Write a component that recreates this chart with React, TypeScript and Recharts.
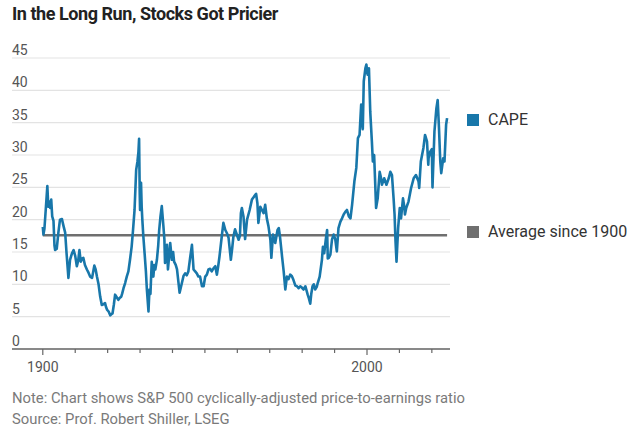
import React from 'react';
import { LineChart, Line, XAxis, YAxis, CartesianGrid } from 'recharts';

// Shiller CAPE (fractional year, ratio)
const capeYears = [
  1900.0, 1900.2, 1900.5, 1900.9, 1901.4, 1901.7, 1902.0, 1902.3, 1902.6, 1902.9,
  1903.3, 1903.6, 1903.8, 1904.3, 1904.8, 1905.3, 1905.9, 1906.4, 1906.9, 1907.3,
  1907.9, 1908.4, 1909.0, 1909.5, 1910.0, 1910.5, 1910.9, 1911.3, 1911.7, 1912.1,
  1912.5, 1913.0, 1913.6, 1914.1, 1914.6, 1915.2, 1915.9, 1916.3, 1916.7, 1917.2,
  1917.7, 1918.2, 1918.7, 1919.2, 1919.5, 1919.8, 1920.3, 1920.8, 1921.2, 1921.5,
  1921.9, 1922.3, 1922.8, 1923.3, 1923.7, 1924.2, 1924.5, 1924.9, 1925.4, 1925.9,
  1926.4, 1926.9, 1927.4, 1927.8, 1928.3, 1928.8, 1929.2, 1929.5, 1929.7, 1929.9,
  1930.0, 1930.3, 1930.5, 1930.7, 1931.0, 1931.4, 1931.8, 1932.1, 1932.6, 1932.9,
  1933.2, 1933.6, 1934.1, 1934.4, 1934.7, 1935.2, 1935.6, 1935.9, 1936.3, 1936.7,
  1937.2, 1937.5, 1937.7, 1938.0, 1938.3, 1938.6, 1939.0, 1939.3, 1939.8, 1940.2,
  1940.5, 1941.0, 1941.4, 1941.8, 1942.2, 1942.9, 1943.4, 1943.9, 1944.4, 1944.9,
  1945.5, 1946.0, 1946.5, 1947.0, 1947.5, 1948.0, 1948.5, 1949.1, 1949.6, 1950.1,
  1950.6, 1951.1, 1951.6, 1952.1, 1952.7, 1953.2, 1953.7, 1954.1, 1954.5, 1955.2,
  1955.7, 1956.3, 1956.8, 1957.3, 1958.0, 1958.4, 1958.8, 1959.3, 1959.7, 1960.4,
  1960.8, 1961.1, 1961.4, 1961.9, 1962.4, 1963.0, 1963.8, 1964.5, 1965.2, 1965.8,
  1966.2, 1966.5, 1967.1, 1967.6, 1968.1, 1968.6, 1969.1, 1969.6, 1970.2, 1970.5,
  1971.0, 1971.7, 1972.4, 1972.8, 1973.2, 1973.8, 1974.3, 1974.8, 1975.3, 1975.8,
  1976.3, 1976.8, 1977.3, 1977.9, 1978.4, 1978.9, 1979.4, 1979.9, 1980.4, 1981.0,
  1981.7, 1982.1, 1982.5, 1982.8, 1983.2, 1983.6, 1984.0, 1984.5, 1984.8, 1985.4,
  1986.1, 1986.4, 1986.8, 1987.3, 1987.7, 1987.9, 1988.2, 1988.7, 1989.2, 1989.7,
  1990.2, 1990.7, 1991.2, 1991.8, 1992.3, 1992.8, 1993.3, 1993.8, 1994.4, 1994.9,
  1995.4, 1996.1, 1996.7, 1997.2, 1997.7, 1998.2, 1998.5, 1998.7, 1999.0, 1999.5,
  1999.8, 2000.2, 2000.6, 2001.0, 2001.5, 2001.8, 2002.2, 2002.5, 2002.8, 2003.3,
  2003.9, 2004.3, 2004.6, 2005.3, 2006.0, 2006.7, 2007.2, 2007.7, 2008.2, 2008.5,
  2008.8, 2009.1, 2009.6, 2010.1, 2010.5, 2011.1, 2011.5, 2011.7, 2012.1, 2012.8,
  2013.6, 2014.4, 2015.1, 2015.9, 2016.1, 2016.6, 2017.4, 2017.9, 2018.5, 2018.9,
  2019.0, 2019.5, 2020.0, 2020.2, 2020.8, 2021.4, 2021.8, 2022.2, 2022.6, 2022.9,
  2023.5, 2023.9, 2024.4, 2024.7,
];

const capeValues = [
  18.9, 17.7, 18.6, 21.5, 25.2, 22.0, 22.8, 21.8, 23.1, 20.5,
  19.8, 16.0, 15.3, 15.5, 18.0, 20.0, 20.1, 19.0, 18.0, 15.0,
  11.0, 13.8, 14.8, 15.3, 14.4, 12.8, 13.6, 15.3, 13.5, 14.0,
  14.1, 13.0, 12.3, 11.8, 11.2, 11.0, 12.9, 12.3, 11.2, 10.0,
  8.1, 6.8, 6.9, 7.1, 6.5, 6.1, 5.8, 5.2, 5.4, 5.5,
  6.8, 8.4, 8.0, 7.6, 7.9, 8.1, 8.6, 9.4, 10.2, 11.2,
  12.0, 13.8, 15.8, 18.2, 21.5, 27.7, 29.0, 30.5, 32.5, 24.0,
  21.5, 25.7, 22.0, 20.0, 17.5, 14.8, 12.0, 9.2, 5.8, 9.2,
  8.5, 13.5, 11.2, 13.0, 12.3, 13.8, 16.0, 18.4, 20.5, 22.1,
  19.0, 17.0, 13.3, 14.5, 16.1, 12.3, 14.5, 16.4, 13.8, 15.0,
  13.5, 13.0, 12.3, 10.5, 8.7, 10.2, 11.3, 11.7, 11.4, 12.0,
  14.3, 16.1, 12.3, 12.0, 11.7, 11.2, 11.2, 9.7, 9.7, 11.2,
  11.5, 12.3, 12.4, 12.0, 12.5, 12.8, 11.5, 12.8, 14.3, 17.4,
  19.5, 18.4, 17.9, 17.2, 13.8, 15.5, 17.4, 18.5, 17.9, 16.9,
  17.5, 21.0, 21.8, 20.5, 17.0, 20.0, 21.5, 23.1, 23.6, 24.0,
  22.5, 19.5, 22.0, 21.5, 21.0, 22.3, 20.2, 19.0, 16.9, 14.1,
  17.7, 16.4, 18.4, 18.7, 17.2, 14.3, 12.0, 9.2, 11.2, 10.8,
  11.5, 11.3, 10.7, 9.8, 9.7, 9.4, 9.7, 9.5, 9.2, 9.7,
  8.4, 7.8, 7.0, 8.5, 9.7, 10.0, 9.2, 9.6, 10.2, 11.2,
  13.8, 15.8, 14.8, 17.0, 18.4, 14.0, 14.1, 14.6, 16.9, 17.7,
  17.0, 15.1, 18.7, 19.7, 20.2, 20.8, 21.2, 21.5, 20.5, 20.2,
  22.3, 25.9, 28.0, 32.6, 33.1, 37.8, 35.2, 34.0, 41.4, 43.4,
  44.0, 42.4, 43.4, 36.7, 32.1, 29.0, 30.0, 26.0, 21.8, 23.3,
  27.4, 26.5, 25.4, 26.4, 25.4, 26.4, 27.4, 26.9, 23.3, 20.8,
  16.6, 13.5, 18.7, 21.8, 20.2, 23.3, 22.0, 20.8, 21.8, 22.8,
  24.9, 26.4, 26.9, 25.9, 24.9, 29.0, 31.1, 33.1, 32.1, 28.5,
  29.5, 30.5, 30.9, 25.0, 33.6, 37.2, 38.5, 34.2, 29.0, 27.2,
  29.5, 29.0, 34.7, 35.7,
];

// average since 1900, drawn from 1900 to the latest reading
const averageYears = [1900, 2024.7];
const averageValue = 17.6;

const yTicks = [0, 5, 10, 15, 20, 25, 30, 35, 40, 45];
const xTicks = [1900, 1910, 1920, 1930, 1940, 1950, 1960, 1970, 1980, 1990, 2000, 2010, 2020];
const xLabels = [1900, 2000];

const BLUE = '#1877aa';
const GREY = '#6f6f6f';
const FONT = 'Roboto, "Noto Sans", sans-serif';

const capeData = capeYears.map((year, i) => ({ year, cape: capeValues[i] }));
const averageData = averageYears.map((year) => ({ year, average: averageValue }));

// direct labels at the right of the plot
const legendItems = [
  { label: 'CAPE', color: BLUE, top: 110 },
  { label: 'Average since 1900', color: GREY, top: 222 },
];

const YTick = ({ x, y, payload }: any) => (
  <text x={x} y={y - 8} dy="0.35em" textAnchor="start" fontSize={14} fill="#555" fontFamily={FONT}>
    {payload.value}
  </text>
);

const XTick = ({ x, y, payload }: any) => {
  const labelled = xLabels.includes(payload.value);
  return (
    <g>
      <line x1={x} x2={x} y1={y} y2={y + (labelled ? 6 : 4)} stroke="#666" strokeWidth={1.2} />
      {labelled && (
        <text x={x} y={y + 18} dy="0.35em" textAnchor="middle" fontSize={14} fill="#555" fontFamily={FONT}>
          {payload.value}
        </text>
      )}
    </g>
  );
};

export default function App() {
  return (
    <div style={{ position: 'absolute', left: 0, top: 0, width: 640, height: 428, background: '#fff', fontFamily: FONT, overflow: 'hidden' }}>
      <div style={{ position: 'absolute', left: 12, top: 3, fontSize: 18, fontWeight: 700, color: '#222', letterSpacing: -0.45 }}>
        In the Long Run, Stocks Got Pricier
      </div>
      <LineChart width={640} height={428} margin={{ top: 58, right: 190, bottom: 49, left: 12 }}>
        <CartesianGrid horizontal vertical={false} stroke="#e3e3e3" strokeWidth={1.2} />
        <XAxis
          dataKey="year"
          type="number"
          domain={[1890.5, 2025.6]}
          ticks={xTicks}
          allowDuplicatedCategory={false}
          height={30}
          tickSize={0}
          tickMargin={0}
          tickLine={false}
          axisLine={{ stroke: '#666', strokeWidth: 1.5 }}
          tick={<XTick />}
          interval={0}
        />
        <YAxis
          type="number"
          domain={[0, 45]}
          ticks={yTicks}
          orientation="left"
          mirror
          width={30}
          tickSize={0}
          tickMargin={0}
          axisLine={false}
          tickLine={false}
          tick={<YTick />}
          interval={0}
        />
        <Line
          data={averageData}
          dataKey="average"
          name="Average since 1900"
          stroke={GREY}
          strokeWidth={2.5}
          dot={false}
          isAnimationActive={false}
        />
        <Line
          data={capeData}
          dataKey="cape"
          name="CAPE"
          stroke={BLUE}
          strokeWidth={2.6}
          strokeLinejoin="round"
          dot={false}
          isAnimationActive={false}
        />
      </LineChart>
      {legendItems.map((item) => (
        <div
          key={item.label}
          style={{ position: 'absolute', left: 467, top: item.top, display: 'flex', alignItems: 'center', fontSize: 16, color: '#333', whiteSpace: 'nowrap' }}
        >
          <span style={{ width: 12, height: 12, background: item.color, display: 'inline-block', marginRight: 9 }} />
          {item.label}
        </div>
      ))}
      <div style={{ position: 'absolute', left: 12, top: 390, fontSize: 14.8, color: '#7a7a7a', lineHeight: '16px' }}>
        Note: Chart shows S&amp;P 500 cyclically-adjusted price-to-earnings ratio
      </div>
      <div style={{ position: 'absolute', left: 12, top: 411, fontSize: 14.8, color: '#7a7a7a', lineHeight: '16px' }}>
        Source: Prof. Robert Shiller, LSEG
      </div>
    </div>
  );
}
